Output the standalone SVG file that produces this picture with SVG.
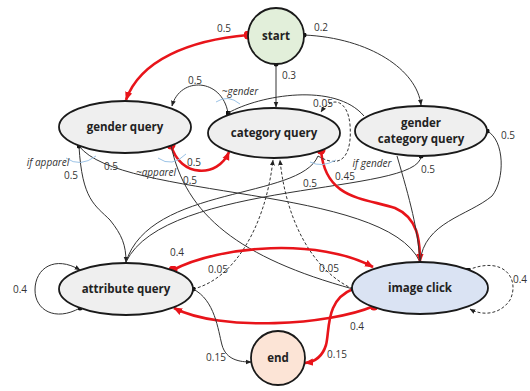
<svg xmlns="http://www.w3.org/2000/svg" width="530" height="391" viewBox="0 0 530 391">
<defs>
<style>
.n{stroke:#1a1a1a;stroke-width:1.8}
.g{fill:#efefef}
.t{font-family:"Open Sans","Liberation Sans",sans-serif;font-weight:bold;font-size:11.5px;fill:#222;text-anchor:middle}
.l{font-family:"Open Sans","Liberation Sans",sans-serif;font-size:10px;fill:#333;text-anchor:middle}
.i{font-style:italic}
.e{fill:none;stroke:#333;stroke-width:1}
.d{fill:none;stroke:#333;stroke-width:1;stroke-dasharray:3,2}
.r{fill:none;stroke:#e8141a;stroke-width:2.6}
.c{fill:none;stroke:#9cc3e6;stroke-width:1}
</style>
<marker id="ak" viewBox="0 0 10 10" refX="9" refY="5" markerWidth="6" markerHeight="6" orient="auto-start-reverse" markerUnits="userSpaceOnUse"><path d="M0,1 L10,5 L0,9 z" fill="#222"/></marker>
<marker id="ar" viewBox="0 0 10 10" refX="9" refY="5" markerWidth="9" markerHeight="9" orient="auto-start-reverse" markerUnits="userSpaceOnUse"><path d="M0,1 L10,5 L0,9 z" fill="#e8141a"/></marker>
<marker id="dk" viewBox="0 0 10 10" refX="5" refY="5" markerWidth="5" markerHeight="5" markerUnits="userSpaceOnUse"><circle cx="5" cy="5" r="5" fill="#111"/></marker>
<marker id="dr" viewBox="0 0 10 10" refX="5" refY="5" markerWidth="9" markerHeight="9" markerUnits="userSpaceOnUse"><circle cx="5" cy="5" r="5" fill="#e8141a"/></marker>
</defs>

<g id="connectors">
<path class="r" d="M248,35 C190,40 140,60 126,100" marker-start="url(#dr)" marker-end="url(#ar)"/>
<path class="e" d="M276,64 L276,107" marker-start="url(#dk)" marker-end="url(#ak)"/>
<path class="e" d="M304,35 C370,38 417,70 421,105" marker-start="url(#dk)" marker-end="url(#ak)"/>
<path class="e" d="M228,113 C222,78 180,76 172,106" marker-start="url(#dk)" marker-end="url(#ak)"/>
<path class="e" d="M228,113 C260,95 335,82 364,116"/>
<path class="r" d="M171,145 C180,178 218,178 229,152" marker-start="url(#dr)" marker-end="url(#ar)"/>
<path class="e" d="M171,145 C185,215 240,258 353,289"/>
<path class="e" d="M79,146 C82,200 95,205 110,220 C122,235 126,245 126,262" marker-start="url(#dk)" marker-end="url(#ak)"/>
<path class="e" d="M79,146 C120,200 385,185 420,262"/>
<path class="e" d="M318,156 C300,200 150,185 126,262"/>
<path class="e" d="M421,156 C420,195 165,180 126,262" marker-start="url(#dk)"/>
<path class="r" d="M321,150 C325,200 365,198 395,208 C418,218 420,240 420,262" marker-start="url(#dr)" marker-end="url(#ar)"/>
<path class="e" d="M397,156 C410,200 418,230 420,262"/>
<path class="e" d="M487,131 C505,140 505,180 492,196 C468,216 424,222 420,262" marker-start="url(#dk)"/>
<path class="d" d="M318,156 C345,172 352,150 350,125 C348,100 332,95 321,112" marker-end="url(#ak)"/>
<path class="d" d="M193,289 C232,280 265,230 273,160" marker-start="url(#dk)" marker-end="url(#ak)"/>
<path class="d" d="M353,289 C312,270 286,220 280,160" marker-end="url(#ak)"/>
<path class="r" d="M173,270 C220,245 320,238 373,267" marker-start="url(#dr)" marker-end="url(#ar)"/>
<path class="r" d="M374,306 C330,325 220,332 174,308" marker-start="url(#dr)" marker-end="url(#ar)"/>
<path class="r" d="M353,289 C325,300 330,330 326,345 C322,358 314,362 305,363" marker-start="url(#dk)" marker-end="url(#ar)"/>
<path class="e" d="M193,289 C215,300 218,330 222,345 C226,360 240,362 251,362" marker-end="url(#ak)"/>
<path class="e" d="M80,308 C55,322 35,310 35,290 C35,268 55,255 80,270" marker-start="url(#dk)" marker-end="url(#ak)"/>
<path class="d" d="M468,270 C505,255 520,280 510,300 C500,315 482,316 470,309" marker-start="url(#dk)" marker-end="url(#ak)"/>
<path class="c" d="M66,158 Q80,168 96,156"/>
<path class="c" d="M158,158 Q172,168 186,154"/>
<path class="c" d="M216,102 Q228,94 240,104"/>
<path class="c" d="M310,162 Q322,168 336,160"/>
</g>

<g id="start"><circle class="n" cx="276" cy="36" r="28" fill="#e2efda"/><text class="t" x="276" y="40">start</text></g>
<g id="gender-query"><ellipse class="n g" cx="125" cy="127" rx="66" ry="26"/><text class="t" x="125" y="131">gender query</text></g>
<g id="category-query"><ellipse class="n g" cx="274" cy="133" rx="66" ry="25"/><text class="t" x="274" y="137">category query</text></g>
<g id="gender-category-query"><ellipse class="n g" cx="421" cy="131" rx="66" ry="25"/><text class="t" x="421" y="127">gender</text><text class="t" x="421" y="143">category query</text></g>
<g id="attribute-query"><ellipse class="n g" cx="126" cy="289" rx="67" ry="26"/><text class="t" x="126" y="293">attribute query</text></g>
<g id="image-click"><ellipse class="n" cx="420" cy="288" rx="68" ry="26" fill="#dae3f3"/><text class="t" x="420" y="292">image click</text></g>
<g id="end"><circle class="n" cx="278" cy="358" r="27" fill="#fce4d6"/><text class="t" x="278" y="362">end</text></g>

<g id="labels">
<text class="l" x="224" y="32">0.5</text>
<text class="l" x="321" y="31">0.2</text>
<text class="l" x="289" y="79">0.3</text>
<text class="l" x="195" y="84">0.5</text>
<text class="l i" x="240" y="95">~gender</text>
<text class="l" x="323" y="107">0.05</text>
<text class="l" x="508" y="139">0.5</text>
<text class="l i" x="48" y="166">if apparel</text>
<text class="l" x="71" y="179">0.5</text>
<text class="l" x="111" y="170">0.5</text>
<text class="l i" x="156" y="176">~apparel</text>
<text class="l" x="194" y="166">0.5</text>
<text class="l" x="190" y="184">0.5</text>
<text class="l" x="310" y="187">0.5</text>
<text class="l i" x="372" y="167">if gender</text>
<text class="l" x="345" y="180">0.45</text>
<text class="l" x="428" y="173">0.5</text>
<text class="l" x="177" y="256">0.4</text>
<text class="l" x="218" y="273">0.05</text>
<text class="l" x="329" y="272">0.05</text>
<text class="l" x="20" y="293">0.4</text>
<text class="l" x="520" y="283">0.4</text>
<text class="l" x="357" y="330">0.4</text>
<text class="l" x="216" y="361">0.15</text>
<text class="l" x="337" y="358">0.15</text>
</g>
</svg>
